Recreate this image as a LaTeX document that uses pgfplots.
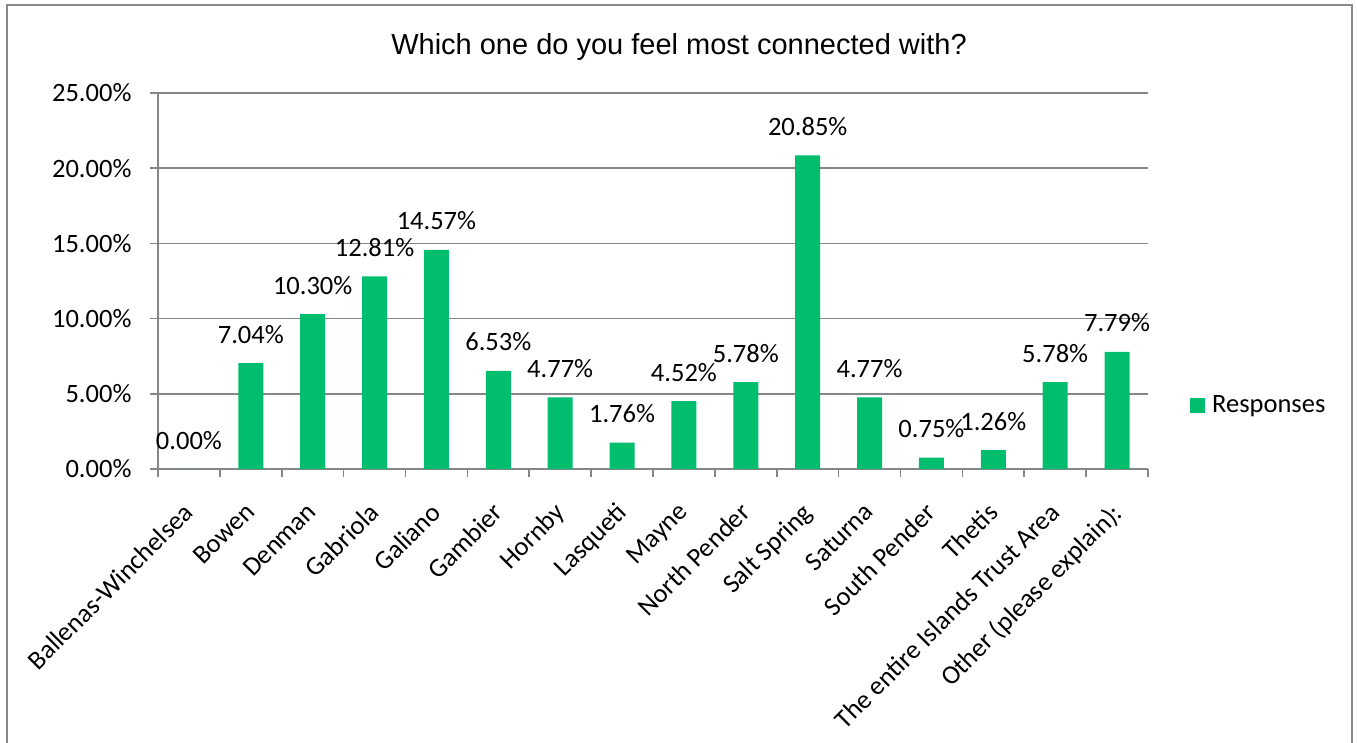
\documentclass[border=0pt]{standalone}
\usepackage{pgfplots}
\pgfplotsset{compat=1.18}
\usepackage{pgfplotstable}
\usepackage{fontspec}
\setmainfont{Carlito}
\newfontfamily\titlefont{Liberation Sans}
\definecolor{barg}{RGB}{0,190,110}
\definecolor{gridg}{RGB}{134,134,134}
\definecolor{bord}{RGB}{137,137,137}
\newcommand\lblfont{\fontsize{26.5}{31}\selectfont}
\pgfplotstableread{
x y
0 0.00
1 7.04
2 10.30
3 12.81
4 14.57
5 6.53
6 4.77
7 1.76
8 4.52
9 5.78
10 20.85
11 4.77
12 0.75
13 1.26
14 5.78
15 7.79
}\data
\begin{document}
\begin{tikzpicture}[x=1pt,y=1pt]
\path[use as bounding box] (0,0) rectangle (1357,-742);
\draw[bord, line width=2pt] (7,-5) rectangle (1352,-780);
\node[font=\titlefont\fontsize{29}{34}\selectfont, anchor=base, inner sep=0pt] at (679,-54) {Which one do you feel most connected with?};
\begin{axis}[
  at={(158pt,-469pt)}, anchor=south west,
  scale only axis, width=990pt, height=376pt,
  xmin=-0.5, xmax=15.5, ymin=0, ymax=25,
  clip=false,
  axis x line*=bottom, axis y line*=left,
  axis line style={gridg, line width=1.6pt},
  ymajorgrids, grid style={gridg, line width=1.6pt},
  tick align=outside, major tick length=8pt,
  tick style={gridg, line width=1.6pt},
  ytick={0,5,10,15,20,25},
  yticklabels={0.00\%,5.00\%,10.00\%,15.00\%,20.00\%,25.00\%},
  yticklabel style={font=\lblfont, xshift=-15pt},
  xtick={-0.5,0.5,...,15.5},
  x tick label as interval,
  xticklabels={Ballenas-Winchelsea,Bowen,Denman,Gabriola,Galiano,Gambier,Hornby,Lasqueti,Mayne,North Pender,Salt Spring,Saturna,South Pender,Thetis,The entire Islands Trust Area,Other (please explain):},
  xticklabel style={font=\lblfont, inner sep=0pt, xshift=-7pt, yshift=-24pt, rotate=45, anchor=north east},
  legend style={at={(1.0424,0.170)}, anchor=west, draw=none, fill=none, inner sep=0pt, font=\lblfont, nodes={inner xsep=7pt, inner ysep=0pt}},
  legend cell align=left,
  legend image code/.code={\fill[#1] (0pt,-7.5pt) rectangle (15pt,7.5pt);},
]
\addplot[ybar, bar width=25pt, fill=barg, draw=none,
  nodes near coords={\pgfmathprintnumber[fixed,fixed zerofill,precision=2,assume math mode=true]{\pgfplotspointmeta}\%},
  every node near coord/.append style={font=\lblfont, text=black, inner sep=0pt, anchor=base, yshift=20pt},
] table[x=x,y=y]{\data};
\addlegendentry{Responses}
\end{axis}
\end{tikzpicture}
\end{document}
